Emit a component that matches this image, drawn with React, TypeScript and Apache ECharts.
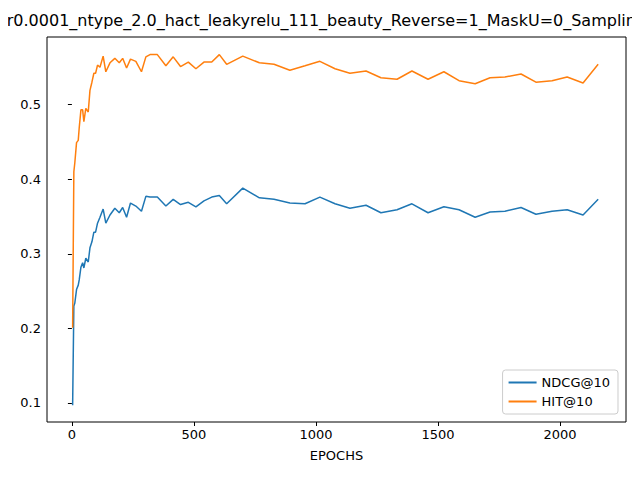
import { useEffect, useRef } from 'react';
import * as echarts from 'echarts';

const TITLE = 'lr0.0001_ntype_2.0_hact_leakyrelu_111_beauty_Reverse=1_MaskU=0_Sampling=1';
const epochs = [3, 8, 12, 19, 26, 30, 37, 44, 49, 57, 67, 74, 82, 90, 97, 105, 115, 128, 139, 156, 176, 194, 208, 224, 240, 262, 285, 303, 320, 350, 385, 415, 445, 477, 508, 541, 573, 604, 634, 700, 768, 828, 893, 955, 1016, 1078, 1139, 1205, 1266, 1332, 1393, 1459, 1524, 1586, 1652, 1713, 1774, 1840, 1901, 1967, 2029, 2094, 2156];
const ndcg = [0.097, 0.23, 0.234, 0.252, 0.258, 0.265, 0.282, 0.288, 0.281, 0.294, 0.289, 0.308, 0.316, 0.329, 0.329, 0.341, 0.349, 0.36, 0.341, 0.352, 0.361, 0.355, 0.362, 0.349, 0.368, 0.364, 0.357, 0.377, 0.376, 0.376, 0.364, 0.373, 0.366, 0.369, 0.363, 0.371, 0.376, 0.378, 0.367, 0.388, 0.375, 0.373, 0.368, 0.367, 0.376, 0.367, 0.361, 0.365, 0.355, 0.359, 0.367, 0.355, 0.363, 0.359, 0.349, 0.356, 0.357, 0.362, 0.353, 0.357, 0.359, 0.352, 0.373];
const hit = [0.201, 0.41, 0.422, 0.449, 0.452, 0.469, 0.493, 0.493, 0.477, 0.495, 0.49, 0.519, 0.53, 0.542, 0.542, 0.553, 0.55, 0.565, 0.544, 0.556, 0.562, 0.556, 0.562, 0.549, 0.561, 0.558, 0.544, 0.564, 0.567, 0.567, 0.552, 0.564, 0.551, 0.557, 0.548, 0.557, 0.557, 0.567, 0.554, 0.565, 0.556, 0.554, 0.546, 0.552, 0.558, 0.548, 0.542, 0.545, 0.536, 0.534, 0.545, 0.534, 0.544, 0.532, 0.528, 0.536, 0.537, 0.541, 0.53, 0.532, 0.537, 0.529, 0.554];
const xTicks = [0, 500, 1000, 1500, 2000];
const yTicks = [0.1, 0.2, 0.3, 0.4, 0.5];

const font = 'DejaVu Sans';

export default function App() {
  const ref = useRef<HTMLDivElement | null>(null);

  useEffect(() => {
    if (!ref.current) return;
    const chart = echarts.init(ref.current, undefined, { renderer: 'svg' });
    const axisCommon = {
      axisLine: { show: false },
      splitLine: { show: false },
      axisTick: { show: true, inside: false, length: 4, lineStyle: { color: '#000' } },
      axisLabel: { color: '#000', fontFamily: font, fontSize: 13, margin: 6 },
    };
    chart.setOption({
      animation: false,
      graphic: [
        {
          type: 'text',
          x: 336,
          y: 12,
          style: {
            text: TITLE,
            align: 'center',
            fontFamily: font,
            fontSize: 16,
            fill: '#000',
          },
        },
      ],
      grid: { left: 47, right: 14, top: 37, bottom: 58, show: true, borderColor: '#000', borderWidth: 1, backgroundColor: 'transparent' },
      legend: {
        right: 22,
        bottom: 66,
        orient: 'vertical',
        itemWidth: 28,
        itemHeight: 2,
        itemGap: 6,
        padding: [6, 8, 6, 6],
        borderColor: '#ccc',
        borderWidth: 1,
        borderRadius: 3,
        backgroundColor: '#fff',
        icon: 'rect',
        textStyle: { fontFamily: font, fontSize: 13, color: '#000' },
        data: ['NDCG@10', 'HIT@10'],
      },
      xAxis: {
        type: 'value',
        min: -102,
        max: 2270,
        name: 'EPOCHS',
        nameLocation: 'middle',
        nameGap: 27,
        nameTextStyle: { fontFamily: font, fontSize: 13, color: '#000' },
        ...axisCommon,
        axisTick: { ...axisCommon.axisTick, customValues: xTicks },
        axisLabel: { ...axisCommon.axisLabel, customValues: xTicks, formatter: (v: number) => String(v) },
      },
      yAxis: {
        type: 'value',
        min: 0.0745,
        max: 0.5906,
        ...axisCommon,
        axisTick: { ...axisCommon.axisTick, customValues: yTicks },
        axisLabel: { ...axisCommon.axisLabel, customValues: yTicks, formatter: (v: number) => v.toFixed(1) },
      },
      series: [
        {
          name: 'NDCG@10',
          type: 'line',
          showSymbol: false,
          color: '#1f77b4',
          lineStyle: { width: 1.5 },
          data: epochs.map((e, i) => [e, ndcg[i]]),
        },
        {
          name: 'HIT@10',
          type: 'line',
          showSymbol: false,
          color: '#ff7f0e',
          lineStyle: { width: 1.5 },
          data: epochs.map((e, i) => [e, hit[i]]),
        },
      ],
    });
    return () => chart.dispose();
  }, []);

  return <div ref={ref} style={{ width: 640, height: 480, margin: -8 }} />;
}
